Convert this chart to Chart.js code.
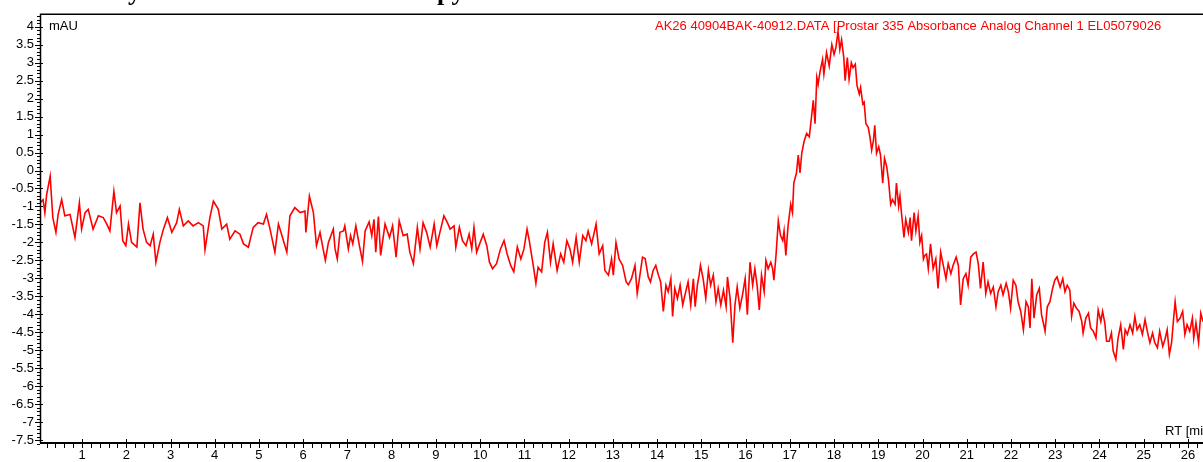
<!DOCTYPE html>
<html>
<head>
<meta charset="utf-8">
<script src="https://cdn.jsdelivr.net/npm/chart.js@4.4.1/dist/chart.umd.min.js"></script>
<style>
  html, body { margin: 0; padding: 0; background: #fff; }
  #wrap { width: 1203px; height: 462px; position: relative; }
</style>
</head>
<body>
<div id="wrap"><canvas id="chromChart"></canvas></div>
<script>
// Retention time (min) of each sample
const rtMin = [
  // 0 - 6.6 min
  0.05,0.12,0.16,0.20,0.28,0.34,0.41,0.46,0.54,0.61,
  0.73,0.84,0.94,0.99,1.07,1.14,1.25,1.37,1.48,1.56,
  1.63,1.72,1.78,1.86,1.92,1.99,2.05,2.12,2.24,2.31,
  2.38,2.46,2.54,2.61,2.67,2.76,2.84,2.93,3.03,3.14,
  3.20,3.29,3.40,3.51,3.63,3.74,3.78,3.89,3.97,4.08,
  4.16,4.27,4.34,4.46,4.57,4.65,4.76,4.87,4.98,5.10,
  5.17,5.25,5.36,5.44,5.51,5.63,5.70,5.81,5.93,6.04,
  6.06,6.14,6.23,6.30,6.38,6.45,6.50,6.57,
  // 6.6 - 13.3 min
  6.68,6.72,6.77,6.83,6.91,6.94,7.02,7.07,7.12,7.19,
  7.27,7.34,7.40,7.49,7.55,7.60,7.64,7.70,7.75,7.85,
  7.95,8.02,8.10,8.17,8.26,8.35,8.41,8.49,8.58,8.64,
  8.71,8.79,8.87,8.96,9.02,9.09,9.18,9.26,9.32,9.41,
  9.45,9.53,9.60,9.68,9.75,9.81,9.86,9.92,10.00,10.07,
  10.15,10.21,10.28,10.37,10.46,10.54,10.61,10.69,10.76,10.84,
  10.92,10.99,11.06,11.11,11.20,11.26,11.31,11.39,11.46,11.52,
  11.59,11.65,11.74,11.82,11.89,11.96,12.03,12.09,12.17,12.24,
  12.32,12.39,12.44,12.52,12.57,12.62,12.69,12.77,12.82,12.90,
  12.97,13.01,13.07,13.14,13.22,13.30,
  // 13.3 - 20 min (peak)
  13.35,13.42,13.50,13.55,13.60,13.67,13.73,13.80,13.85,13.91,
  13.97,14.03,14.08,14.14,14.20,14.25,14.31,14.35,14.40,14.46,
  14.52,14.58,14.63,14.70,14.76,14.82,14.86,14.91,14.95,14.98,
  15.04,15.10,15.16,15.21,15.27,15.33,15.38,15.44,15.50,15.56,
  15.59,15.65,15.71,15.76,15.81,15.87,15.93,15.99,16.04,16.10,
  16.16,16.21,16.26,16.31,16.36,16.42,16.46,16.51,16.57,16.61,
  16.64,16.69,16.74,16.79,16.84,16.87,16.91,16.96,17.02,17.06,
  17.09,17.15,17.19,17.23,17.27,17.32,17.38,17.44,17.49,17.53,
  17.57,17.61,17.64,17.68,17.74,17.77,17.83,17.89,17.95,18.00,
  18.04,18.09,18.13,18.17,18.22,18.25,18.30,18.34,18.39,18.43,
  18.48,18.52,18.57,18.60,18.65,18.68,18.72,18.77,18.81,18.85,
  18.89,18.92,18.96,19.01,19.05,19.10,19.14,19.19,19.23,19.28,
  19.32,19.38,19.41,19.46,19.49,19.53,19.58,19.62,19.68,19.72,
  19.75,19.81,19.85,19.90,19.94,
  // 20 - 26.3 min
  19.98,20.02,20.05,20.09,20.13,20.18,20.24,20.30,20.35,20.41,
  20.47,20.53,20.58,20.64,20.69,20.76,20.81,20.86,20.92,20.98,
  21.03,21.09,21.15,21.21,21.26,21.31,21.37,21.43,21.48,21.54,
  21.60,21.66,21.71,21.77,21.82,21.89,21.94,21.99,22.05,22.11,
  22.16,22.22,22.28,22.34,22.39,22.43,22.47,22.52,22.58,22.64,
  22.69,22.74,22.77,22.82,22.88,22.94,22.99,23.04,23.11,23.17,
  23.22,23.27,23.33,23.37,23.42,23.48,23.54,23.60,23.63,23.69,
  23.75,23.80,23.86,23.92,23.97,24.03,24.07,24.12,24.16,24.22,
  24.27,24.31,24.37,24.42,24.48,24.54,24.58,24.63,24.69,24.75,
  24.80,24.85,24.91,24.97,25.03,25.08,25.14,25.20,25.25,25.31,
  25.36,25.43,25.48,25.53,25.58,25.63,25.67,25.71,25.76,25.82,
  25.88,25.93,25.98,26.04,26.10,26.13,26.18,26.24,26.29,26.34
];

// Absorbance (mAU) at each of those times
const absMAU = [
  -0.90,-0.81,-1.17,-0.67,-0.16,-1.31,-1.72,-1.22,-0.81,-1.26,
  -1.22,-1.86,-0.90,-1.63,-1.17,-1.08,-1.63,-1.26,-1.31,-1.49,
  -1.68,-0.58,-1.17,-0.99,-1.95,-2.09,-1.49,-2.00,-2.13,-0.90,
  -1.63,-2.00,-2.09,-1.77,-2.55,-2.00,-1.63,-1.31,-1.72,-1.45,
  -1.08,-1.54,-1.40,-1.54,-1.45,-1.54,-2.20,-1.31,-0.85,-1.08,
  -1.63,-1.49,-1.91,-1.68,-1.77,-2.04,-2.13,-1.58,-1.45,-1.49,
  -1.22,-1.63,-2.27,-1.49,-1.77,-2.27,-1.26,-1.03,-1.17,-1.13,
  -1.72,-0.71,-1.17,-2.09,-1.72,-2.18,-2.50,-2.00,

  -1.63,-2.18,-2.46,-1.72,-1.68,-1.54,-2.18,-1.81,-2.04,-1.54,
  -2.09,-2.53,-1.68,-1.43,-1.81,-1.36,-2.27,-1.28,-2.36,-1.49,
  -1.86,-1.54,-2.41,-1.40,-1.81,-1.77,-2.27,-2.59,-1.58,-2.18,
  -1.45,-1.72,-2.13,-1.49,-2.09,-1.72,-1.26,-1.45,-1.63,-1.54,
  -2.13,-1.58,-1.95,-2.09,-1.77,-2.18,-1.58,-2.27,-2.00,-1.77,
  -2.09,-2.55,-2.73,-2.59,-2.18,-1.95,-2.32,-2.64,-2.82,-2.13,
  -2.46,-2.18,-1.63,-1.95,-2.64,-3.14,-2.69,-2.82,-2.00,-1.72,
  -2.55,-2.04,-2.78,-2.32,-2.55,-1.95,-2.18,-2.55,-1.86,-2.55,
  -1.81,-1.95,-1.68,-2.04,-1.77,-1.49,-2.32,-2.09,-2.78,-2.91,
  -2.46,-2.91,-2.00,-2.46,-2.64,-3.10,

  -3.18,-3.01,-2.64,-3.42,-3.01,-2.41,-2.45,-2.96,-3.10,-2.78,
  -2.64,-2.91,-3.10,-3.92,-3.19,-3.37,-3.01,-4.06,-3.28,-3.56,
  -3.19,-3.74,-3.46,-3.10,-3.74,-3.01,-3.79,-3.19,-2.91,-2.64,
  -3.01,-3.56,-2.78,-3.19,-2.91,-3.65,-3.28,-3.74,-3.33,-3.79,
  -2.96,-3.56,-4.79,-3.74,-3.24,-3.83,-3.46,-3.01,-4.01,-2.55,
  -3.19,-2.73,-3.19,-3.88,-2.91,-3.37,-2.50,-2.73,-2.55,-2.73,
  -3.05,-2.32,-1.40,-1.81,-1.95,-1.68,-2.36,-1.54,-0.94,-1.17,
  -0.35,-0.07,0.43,-0.07,0.48,0.80,1.03,0.94,1.49,1.95,
  1.30,2.59,2.40,2.73,3.09,2.68,3.28,2.91,3.50,3.23,
  3.41,3.87,3.37,3.64,3.14,2.50,3.14,2.54,3.00,2.86,
  2.96,2.36,2.13,2.31,1.85,1.90,1.30,1.21,0.94,0.57,
  0.84,1.26,0.48,0.66,0.43,-0.35,0.34,0.11,-0.26,-0.94,
  -0.81,-0.94,-0.35,-0.99,-0.71,-1.26,-1.86,-1.36,-1.72,-1.31,
  -1.95,-1.17,-1.68,-1.26,-2.00,

  -1.81,-2.46,-2.36,-2.32,-2.73,-2.04,-2.73,-2.46,-3.28,-2.27,
  -2.64,-3.01,-2.59,-2.87,-2.64,-2.41,-2.64,-3.74,-3.01,-2.87,
  -3.19,-2.41,-2.32,-2.27,-2.59,-3.28,-2.55,-3.42,-3.10,-3.42,
  -3.24,-3.79,-3.37,-3.19,-3.46,-3.14,-3.37,-3.83,-3.05,-3.19,
  -3.65,-3.92,-4.43,-3.65,-3.79,-4.38,-3.01,-4.11,-3.46,-3.28,
  -4.01,-4.29,-4.47,-3.79,-3.65,-3.28,-3.05,-2.96,-3.24,-3.01,
  -3.37,-3.19,-3.33,-4.06,-3.69,-3.83,-3.92,-4.20,-4.52,-4.11,
  -3.97,-4.38,-4.47,-4.66,-3.88,-4.20,-3.92,-4.24,-4.75,-4.75,
  -4.52,-5.02,-5.25,-4.66,-4.29,-4.98,-4.43,-4.56,-4.29,-4.52,
  -4.06,-4.43,-4.29,-4.56,-4.15,-4.47,-4.79,-4.52,-4.79,-4.93,
  -4.47,-4.89,-4.70,-4.43,-5.11,-4.79,-4.20,-3.65,-4.20,-4.11,
  -3.92,-4.56,-4.29,-4.47,-4.11,-4.66,-4.24,-4.79,-3.97,-4.20
];

// Axis tick labels
const xTicks = [1,2,3,4,5,6,7,8,9,10,11,12,13,14,15,16,17,18,19,20,21,22,23,24,25,26];
const yTicks = [-7.5,-7,-6.5,-6,-5.5,-5,-4.5,-4,-3.5,-3,-2.5,-2,-1.5,-1,-0.5,0,0.5,1,1.5,2,2.5,3,3.5,4];

const traceLabel = "AK26 40904BAK-40912.DATA [Prostar 335 Absorbance Analog Channel 1 EL05079026";
const yUnit = "mAU";
const xUnit = "RT [min]";

const FONT = "'Liberation Sans', Arial, sans-serif";

// Axis lines, major/minor ticks and the loose texts
const axesPlugin = {
  id: "axesPlugin",
  afterDraw(chart) {
    const { ctx, chartArea: a, scales } = chart;
    const x = scales.x, y = scales.y;
    ctx.save();
    ctx.strokeStyle = "#000";

    // frame: top, left, bottom
    ctx.lineWidth = 1.5;
    ctx.beginPath();
    ctx.moveTo(a.left, a.top + 0.5);
    ctx.lineTo(a.right, a.top + 0.5);
    ctx.moveTo(a.left + 0.5, a.top);
    ctx.lineTo(a.left + 0.5, a.bottom);
    ctx.stroke();
    ctx.lineWidth = 2;
    ctx.beginPath();
    ctx.moveTo(a.left, a.bottom);
    ctx.lineTo(a.right, a.bottom);
    ctx.stroke();

    // y ticks: minor every 0.1, major every 0.5
    ctx.lineWidth = 1;
    ctx.beginPath();
    for (let k = -76; k <= 43; k++) {
      const py = Math.round(y.getPixelForValue(k / 10)) + 0.5;
      if (k % 5 === 0) {
        ctx.moveTo(a.left - 5, py);
        ctx.lineTo(a.left + 3, py);
      } else {
        ctx.moveTo(a.left - 3, py);
        ctx.lineTo(a.left, py);
      }
    }
    // x ticks: minor every 0.2, major every 1
    for (let k = 1; k <= 131; k++) {
      const px = Math.round(x.getPixelForValue(k / 5)) + 0.5;
      if (k % 5 === 0) {
        ctx.moveTo(px, a.bottom - 4);
        ctx.lineTo(px, a.bottom + 5);
      } else {
        ctx.moveTo(px, a.bottom);
        ctx.lineTo(px, a.bottom + 5);
      }
    }
    ctx.stroke();

    // texts
    ctx.font = "13px " + FONT;
    ctx.textBaseline = "middle";
    ctx.fillStyle = "#000";
    ctx.textAlign = "left";
    ctx.fillText(yUnit, a.left + 9, y.getPixelForValue(4));
    ctx.fillText(xUnit, 1165, a.bottom - 12);
    ctx.fillStyle = "#ff0000";
    ctx.fillText(traceLabel, 655, y.getPixelForValue(4));

    // cut-off page heading above the plot
    ctx.fillStyle = "#000";
    ctx.font = "bold 26px 'Liberation Serif', 'Times New Roman', serif";
    ctx.textBaseline = "alphabetic";
    ctx.fillText("y", 128, 0);
    ctx.fillText("py", 437, 0);
    ctx.restore();
  }
};

const points = rtMin.map((t, i) => ({ x: t, y: absMAU[i] }));

new Chart(document.getElementById("chromChart"), {
  type: "line",
  data: {
    datasets: [{
      label: traceLabel,
      data: points,
      borderColor: "#ff0000",
      borderWidth: 1.6,
      pointRadius: 0,
      tension: 0,
      fill: false
    }]
  },
  options: {
    responsive: true,
    maintainAspectRatio: false,
    animation: false,
    layout: { padding: { top: 9, right: 0, left: 0, bottom: 0 } },
    plugins: {
      legend: { display: false },
      tooltip: { enabled: false },
      title: { display: false }
    },
    scales: {
      x: {
        type: "linear",
        min: 0.05,
        max: 26.34,
        grid: { display: false, drawTicks: false },
        border: { display: false },
        afterBuildTicks: (scale) => { scale.ticks = xTicks.map(v => ({ value: v })); },
        afterFit: (scale) => { scale.height = 19; },
        ticks: {
          autoSkip: false,
          maxRotation: 0,
          padding: 5,
          color: "#000",
          font: { family: FONT, size: 13 },
          callback: (v) => String(v)
        }
      },
      y: {
        type: "linear",
        min: -7.58,
        max: 4.36,
        grid: { display: false, drawTicks: false },
        border: { display: false },
        afterBuildTicks: (scale) => { scale.ticks = yTicks.map(v => ({ value: v })); },
        afterFit: (scale) => { scale.width = 40; },
        ticks: {
          autoSkip: false,
          padding: 6,
          color: "#000",
          font: { family: FONT, size: 13 },
          callback: (v) => String(v)
        }
      }
    }
  },
  plugins: [axesPlugin]
});
</script>
</body>
</html>
